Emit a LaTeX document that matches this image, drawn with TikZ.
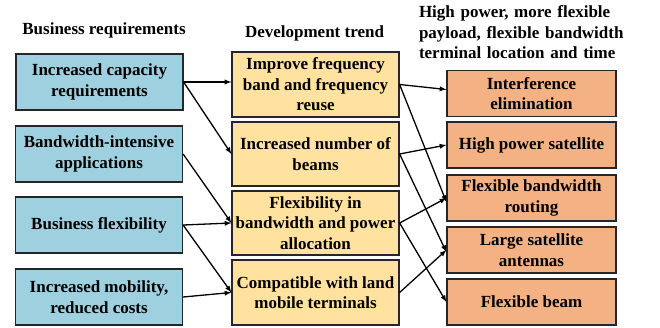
\documentclass[tikz,border=0pt]{standalone}
\usepackage{fontspec}
\setmainfont{Liberation Serif}
\usetikzlibrary{arrows}
\usetikzlibrary{positioning}
\definecolor{reqColor}{RGB}{158,208,224}
\definecolor{trendColor}{RGB}{255,226,160}
\definecolor{payColor}{RGB}{244,177,131}

\tikzset{
  box/.style={draw=black!85, line width=1.2pt, align=center, inner sep=1pt,
    font=\bfseries\fontsize{17}{20.5}\selectfont},
  reqbox/.style={box, fill=reqColor, minimum width=167pt, minimum height=56pt},
  trendbox/.style={box, fill=trendColor, minimum width=167pt, minimum height=64pt},
  paybox/.style={box, fill=payColor, minimum width=169pt, minimum height=46pt},
  head/.style={font=\bfseries\fontsize{17}{20.5}\selectfont, inner sep=0pt},
  link/.style={-latex, line width=1.3pt, black},
}
% one stretched line of the right heading
\newcommand\fullline[1]{\makebox[219pt][s]{#1}}

\begin{document}
\begin{tikzpicture}[x=1pt,y=-1pt]
\useasboundingbox (0,0) rectangle (660,327);

% column headings
\node [head] (hreq) at (104,30) {Business requirements};
\node [head] (htrend) at (314.5,33) {Development trend};
\node [head, text width=219pt, align=left] (hpay) at (528.5,32.5)
  {\fullline{High power, more flexible}\\
   \fullline{payload, flexible bandwidth}\\
   terminal location and time};

% business requirements
\node [reqbox] (r1) at (99.5,82) {Increased capacity\\requirements};
\node [reqbox] (r2) at (99,154) {Bandwidth-intensive\\applications};
\node [reqbox] (r3) at (99,225) {Business flexibility};
\node [reqbox] (r4) at (99,297) {Increased mobility,\\reduced costs};

% development trend
\node [trendbox, minimum height=65pt] (t1) at (315.5,84.5) {Improve frequency\\band and frequency\\reuse};
\node [trendbox] (t2) at (315.5,154) {Increased number of\\beams};
\node [trendbox] (t3) at (315.5,223) {Flexibility in\\bandwidth and power\\allocation};
\node [trendbox, minimum height=65pt] (t4) at (315.5,292.5) {Compatible with land\\mobile terminals};

% payload features
\node [paybox] (p1) at (531.5,93.5) {Interference\\elimination};
\node [paybox] (p2) at (531.5,145) {High power satellite};
\node [paybox] (p3) at (531.5,198) {Flexible bandwidth\\routing};
\node [paybox] (p4) at (531.5,250) {Large satellite\\antennas};
\node [paybox] (p5) at (531.5,302) {Flexible beam};

% requirements -> trends
\draw [link] (r1.east) -- (t1.west |- r1.east);
\draw [link] (r1.east) -- (t2.west);
\draw [link] (r2.east) -- (t3.west);
\draw [link] (r3.east) -- (t3.west);
\draw [link] (r3.east) -- (t4.west);
\draw [link] (r4.east) -- (t4.west);

% trends -> payload
\draw [link] (t1.east) -- ([yshift=4pt]p1.west);
\draw [link] (t1.east) -- ([yshift=-4pt]p3.west);
\draw [link] (t2.east) -- (p2.west);
\draw [link] (t2.east) -- ([yshift=-2pt]p4.west);
\draw [link] (t3.east) -- (p3.west);
\draw [link] (t3.east) -- (p5.west);
\draw [link] (t4.east) -- (p4.west);
\end{tikzpicture}
\end{document}
